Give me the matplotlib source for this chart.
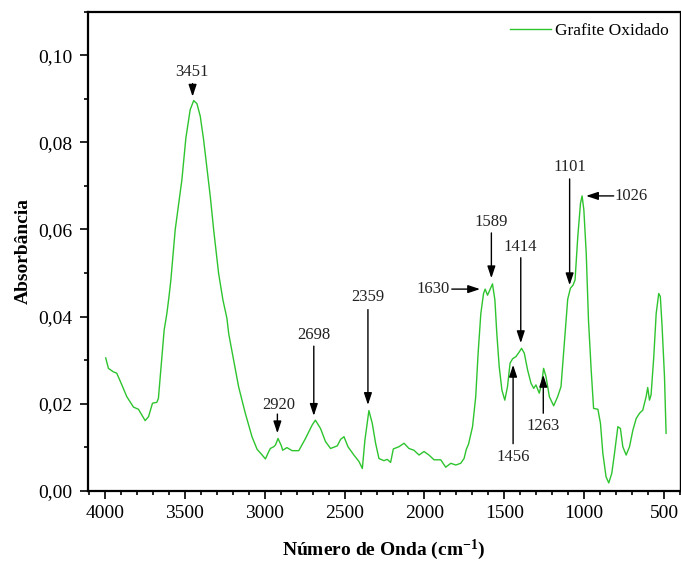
"""
FTIR spectrum of graphite oxide with labelled bands
"""
import numpy as np
import matplotlib
matplotlib.use("Agg")
import matplotlib.pyplot as plt
from matplotlib.ticker import MultipleLocator, FuncFormatter

plt.rcParams['font.family'] = ['Liberation Serif', 'DejaVu Serif']
plt.rcParams['mathtext.fontset'] = 'custom'
plt.rcParams['mathtext.rm'] = 'Liberation Serif'
plt.rcParams['mathtext.default'] = 'regular'

wavenumber = [3996, 3979, 3948, 3927, 3895, 3864, 3822, 3791, 3749, 3728,
              3703, 3676, 3666, 3644, 3630, 3613, 3600, 3588, 3561, 3519,
              3494, 3467, 3445, 3425, 3404, 3383, 3362, 3341, 3320, 3289, 3262,
              3237, 3226, 3195, 3164, 3122, 3080, 3048, 3021, 2996, 2975,
              2965, 2944, 2933, 2917, 2896, 2888, 2861, 2829, 2787, 2745,
              2703, 2683, 2651, 2620, 2588, 2546, 2525, 2504, 2479, 2442,
              2410, 2389, 2373, 2348, 2327, 2306, 2285, 2254, 2233, 2212,
              2195, 2160, 2128, 2097, 2066, 2034, 2003, 1972, 1940, 1898,
              1867, 1835, 1804, 1773, 1752, 1738, 1724, 1699, 1679, 1664,
              1647, 1630, 1620, 1605, 1591, 1574, 1559, 1547, 1532, 1515,
              1497, 1480, 1464, 1448, 1427, 1406, 1392, 1375, 1354, 1333,
              1316, 1302, 1281, 1266, 1254, 1239, 1218, 1191, 1166, 1145,
              1124, 1103, 1086, 1070, 1057, 1040, 1023, 1013, 1002, 987,
              973, 956, 941, 914, 898, 883, 863, 846, 827, 810,
              789, 773, 758, 737, 716, 695, 674, 653, 633, 612,
              602, 591, 581, 564, 549, 533, 523, 512, 497, 487]

absorbance = [0.0305, 0.0281, 0.0273, 0.0270, 0.0243, 0.0216, 0.0192, 0.0187, 0.0161, 0.0170,
              0.0201, 0.0203, 0.0212, 0.0308, 0.0369, 0.0407, 0.0445, 0.0484, 0.0599, 0.0714,
              0.0810, 0.0875, 0.0896, 0.0889, 0.0860, 0.0806, 0.0740, 0.0675, 0.0599, 0.0499, 0.0438,
              0.0396, 0.0361, 0.0300, 0.0239, 0.0178, 0.0124, 0.0095, 0.0084, 0.0073, 0.0090,
              0.0097, 0.0101, 0.0105, 0.0120, 0.0103, 0.0093, 0.0099, 0.0092, 0.0092, 0.0120,
              0.0151, 0.0162, 0.0143, 0.0113, 0.0097, 0.0103, 0.0118, 0.0124, 0.0101, 0.0082,
              0.0067, 0.0051, 0.0116, 0.0184, 0.0155, 0.0109, 0.0074, 0.0069, 0.0072, 0.0065,
              0.0096, 0.0101, 0.0109, 0.0097, 0.0093, 0.0082, 0.0090, 0.0082, 0.0071, 0.0071,
              0.0054, 0.0063, 0.0059, 0.0063, 0.0074, 0.0095, 0.0107, 0.0147, 0.0216, 0.0316,
              0.0407, 0.0453, 0.0463, 0.0449, 0.0461, 0.0475, 0.0438, 0.0361, 0.0285, 0.0231,
              0.0208, 0.0239, 0.0293, 0.0303, 0.0308, 0.0319, 0.0327, 0.0316, 0.0277, 0.0247,
              0.0235, 0.0243, 0.0224, 0.0247, 0.0281, 0.0262, 0.0216, 0.0195, 0.0216, 0.0239,
              0.0340, 0.0440, 0.0465, 0.0472, 0.0484, 0.0583, 0.0660, 0.0677, 0.0645, 0.0545,
              0.0392, 0.0277, 0.0189, 0.0187, 0.0155, 0.0086, 0.0032, 0.0018, 0.0040, 0.0086,
              0.0147, 0.0143, 0.0101, 0.0082, 0.0101, 0.0139, 0.0166, 0.0178, 0.0185, 0.0216,
              0.0237, 0.0208, 0.0220, 0.0308, 0.0407, 0.0453, 0.0446, 0.0377, 0.0262, 0.0132]

# label, text position, arrow start, arrow tip, text alignment
peaks = [
    ("3451", (3454, 0.0961), (3452, 0.0935), (3452, 0.0905), 'center'),
    ("2920", (2915, 0.0197), (2921, 0.0176), (2921, 0.0132), 'center'),
    ("2698", (2693, 0.0358), (2693, 0.0332), (2693, 0.0172), 'center'),
    ("2359", (2354, 0.0444), (2354, 0.0416), (2354, 0.0197), 'center'),
    ("1630", (1842, 0.0463), (1829, 0.0463), (1652, 0.0463), 'right'),
    ("1589", (1584, 0.0618), (1581, 0.0592), (1581, 0.0488), 'center'),
    ("1414", (1400, 0.0560), (1397, 0.0535), (1397, 0.0339), 'center'),
    ("1456", (1445, 0.0078), (1445, 0.0108), (1445, 0.0289), 'center'),
    ("1263", (1256, 0.0149), (1256, 0.0178), (1256, 0.0266), 'center'),
    ("1101", (1087, 0.0744), (1091, 0.0716), (1091, 0.0472), 'center'),
    ("1026", (811, 0.0677), (815, 0.0677), (988, 0.0677), 'left'),
]

fig = plt.figure(figsize=(6.81, 5.66), dpi=100)
ax = fig.add_axes([0.1292, 0.1330, 0.8693, 0.8463])

ax.plot(wavenumber, absorbance, color='#2ec42e', lw=1.0, label='Grafite Oxidado')

for lab, tpos, start, tip, ha in peaks:
    ax.annotate('', xy=tip, xytext=start,
                arrowprops=dict(arrowstyle='-|>,head_length=0.6,head_width=0.2',
                                color='k', lw=1.0, shrinkA=0, shrinkB=0,
                                mutation_scale=12))
    ax.text(tpos[0], tpos[1], lab, ha=ha, va='center', fontsize=12, color='#222222')

ax.set_xlim(4107, 400)
ax.set_ylim(0, 0.11)
ax.xaxis.set_major_locator(MultipleLocator(500))
ax.xaxis.set_minor_locator(MultipleLocator(100))
ax.yaxis.set_major_locator(MultipleLocator(0.02))
ax.yaxis.set_minor_locator(MultipleLocator(0.01))
ax.yaxis.set_major_formatter(FuncFormatter(lambda v, p: f"{v:.2f}".replace('.', ',')))

ax.tick_params(which='both', direction='out', top=False, right=False, width=1.2, labelsize=14)
ax.tick_params(axis='x', which='major', length=6, pad=4)
ax.tick_params(axis='y', which='major', length=6, pad=5)
ax.tick_params(which='minor', length=3)
for s in ['left', 'bottom', 'top']:
    ax.spines[s].set_linewidth(1.6)
ax.spines['right'].set_linewidth(1.0)

ax.set_xlabel('Número de Onda (cm$^{-1}$)', fontsize=14, fontweight='bold')
ax.set_ylabel('Absorbância', fontsize=14, fontweight='bold')
ax.xaxis.set_label_coords(0.5, -0.098)
ax.yaxis.set_label_coords(-0.095, 0.5)

ax.legend(loc='upper right', frameon=False, fontsize=12.5, handlelength=2.4,
          handletextpad=0.2, borderaxespad=0.25)

fig.savefig('out.png', dpi=100)
